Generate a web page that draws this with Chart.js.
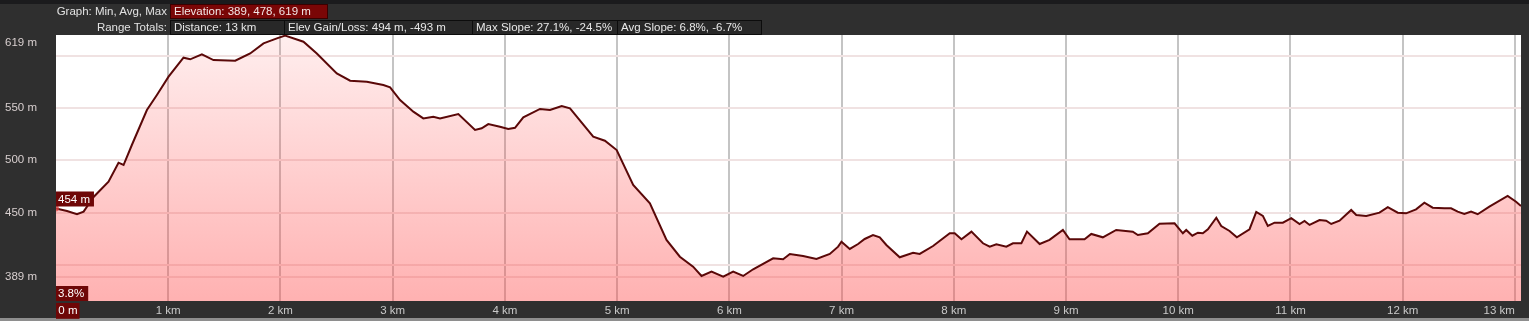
<!DOCTYPE html>
<html><head><meta charset="utf-8">
<script src="https://cdn.jsdelivr.net/npm/chart.js@4.4.0/dist/chart.umd.min.js"></script>
<style>
html,body{margin:0;padding:0;background:#2c2c2c;width:1529px;height:321px;overflow:hidden;font-family:"Liberation Sans",Arial,sans-serif;}
#wrap{position:relative;width:1529px;height:321px;}
#c{position:absolute;left:0;top:0;}
#topstrip{position:absolute;left:0;top:0;width:1529px;height:4px;background:#1b1b1d;}
.lbl{position:absolute;left:0;width:167px;text-align:right;font-size:11.5px;line-height:15px;color:#e2e2e2;white-space:nowrap;}
.box{position:absolute;height:15px;line-height:13px;font-size:11.5px;color:#e8e8e8;padding-left:3px;box-sizing:border-box;white-space:nowrap;border:1px solid #0c0c0c;background:#282828;}
.red{background:#7a0606;border-color:#3a0000;color:#f2e6e6;}
</style></head>
<body>
<div id="wrap">
<canvas id="c" width="1529" height="321"></canvas>
<div id="topstrip"></div>
<div class="lbl" style="top:4px">Graph: Min, Avg, Max</div>
<div class="box red" style="left:170px;top:4px;width:158px">Elevation: 389, 478, 619 m</div>
<div class="lbl" style="top:20px">Range Totals:</div>
<div class="box" style="left:170px;top:20px;width:115px">Distance: 13 km</div>
<div class="box" style="left:284px;top:20px;width:189px">Elev Gain/Loss: 494 m, -493 m</div>
<div class="box" style="left:472px;top:20px;width:146px">Max Slope: 27.1%, -24.5%</div>
<div class="box" style="left:617px;top:20px;width:145px">Avg Slope: 6.8%, -6.7%</div>
</div>
<script>
const distKm = [0,0.098,0.187,0.246,0.335,0.468,0.557,0.602,0.676,0.81,0.899,1.003,1.136,1.196,1.3,1.403,1.597,1.73,1.849,1.968,2.042,2.205,2.324,2.502,2.621,2.77,2.917,2.977,3.066,3.184,3.273,3.362,3.422,3.585,3.734,3.793,3.852,3.956,4.03,4.09,4.164,4.313,4.402,4.506,4.58,4.787,4.891,4.996,5.143,5.292,5.44,5.559,5.677,5.752,5.841,5.945,6.034,6.123,6.212,6.39,6.479,6.539,6.657,6.776,6.895,6.969,6.999,7.073,7.147,7.206,7.28,7.34,7.399,7.518,7.637,7.696,7.815,7.964,8.008,8.068,8.157,8.26,8.32,8.379,8.468,8.527,8.602,8.652,8.765,8.853,8.972,9.031,9.165,9.225,9.328,9.447,9.595,9.64,9.729,9.833,9.967,10.041,10.071,10.125,10.175,10.219,10.264,10.339,10.383,10.457,10.522,10.635,10.695,10.754,10.798,10.858,10.932,11.007,11.081,11.125,11.17,11.259,11.318,11.363,11.437,11.541,11.586,11.675,11.793,11.867,11.956,12.03,12.119,12.193,12.267,12.371,12.431,12.49,12.549,12.609,12.668,12.772,12.935,13.01,13.054];
const elevM = [454,451.6,448.5,451,465,479.6,497.7,495.5,514.6,548,562.3,579.8,597.9,596.4,601.1,595.7,595,602,611.6,616.4,619,613.2,602,583,576,575,571.8,569.7,557.5,546.4,540,541.6,540,544.2,529,530.5,534.6,532,529.9,531,541,549,548,551.8,549.6,522.5,518.7,509.8,476.4,459,424,408,398.5,389.6,393.7,389,393.7,389.6,396,406.5,405.5,410.6,408.7,405.8,410.6,417.6,422.3,415.4,420.1,424.9,428.7,426.5,419.2,407.4,411.8,410.6,418.2,430.3,430.3,424.6,431.9,420.8,417.6,419.8,417.6,420.8,420.8,431.9,420.1,424,433.5,424.6,424.6,429.7,426.5,433.5,431.9,428.7,430.3,439.5,439.9,430.3,433.5,428,430.9,430.3,434.2,445.2,437.3,432.5,426.5,434.2,450.7,446.9,437.3,440.5,440.5,444.7,439.2,442.1,438.3,443,442.4,439.2,442.4,452.6,447.8,446.9,450,455.2,450,449.4,453.2,459.5,454.8,454.2,454.2,451,448.8,451,448.5,455.7,466,460.5,456.4];
const kmTicks = [0,1,2,3,4,5,6,7,8,9,10,11,12,13];
const elevGridTicks = [389,400,450,500,550,600,619];
const elevLabelTicks = [389,450,500,550,619];
const startSlopeLabel = '3.8%';

const FONT = {family:'"Liberation Sans", Arial, sans-serif', size:11.5};

const bgPlugin = {
  id:'bg',
  beforeDraw(chart){
    const c = chart.ctx, a = chart.chartArea;
    c.save();
    c.fillStyle = '#2f2f2f';
    c.fillRect(0,0,chart.width,chart.height);
    c.fillStyle = '#8e8e8e';
    c.fillRect(0,chart.height-3,chart.width,3);
    c.fillStyle = '#ffffff';
    c.fillRect(a.left,a.top,a.right-a.left,a.bottom-a.top);
    c.restore();
  }
};

function tagBox(c, text, x, yTop){
  c.font = '11.5px "Liberation Sans", Arial, sans-serif';
  const w = c.measureText(text).width + 6;
  c.fillStyle = '#6e0707';
  c.fillRect(x, yTop, w, 15);
  c.fillStyle = '#ffffff';
  c.textBaseline = 'middle';
  c.textAlign = 'left';
  c.fillText(text, x + 2, yTop + 8);
}

const tagPlugin = {
  id:'tags',
  afterDatasetsDraw(chart){
    const c = chart.ctx, a = chart.chartArea;
    const py = chart.scales.y.getPixelForValue(elevM[0]);
    c.save();
    tagBox(c, Math.round(elevM[0]) + ' m', a.left, py - 17);
    tagBox(c, startSlopeLabel, a.left, a.bottom - 15);
    c.restore();
  }
};

new Chart(document.getElementById('c'), {
  type:'line',
  data:{datasets:[{
    data: distKm.map((d,i)=>({x:d,y:elevM[i]})),
    borderColor:'#5a0808',
    borderWidth:2,
    tension:0,
    fill:'start',
    pointRadius: ctx => ctx.dataIndex===0 ? 3 : 0,
    pointBorderWidth:0,
    pointBackgroundColor:'rgba(225,70,70,0.75)',
    backgroundColor: ctx => {
      const ch = ctx.chart, a = ch.chartArea;
      if(!a) return 'rgba(255,90,90,0.3)';
      const g = ch.ctx.createLinearGradient(0,a.top,0,a.bottom);
      g.addColorStop(0,'rgba(255,70,70,0.09)');
      g.addColorStop(1,'rgba(255,70,70,0.42)');
      return g;
    }
  }]},
  options:{
    responsive:false, animation:false, devicePixelRatio:1,
    layout:{padding:{top:35,left:5,right:8,bottom:0}},
    plugins:{legend:{display:false},tooltip:{enabled:false}},
    scales:{
      x:{
        type:'linear', min:0, max:13.054,
        afterBuildTicks: s => { s.ticks = kmTicks.map(v=>({value:v})); },
        afterFit: s => { s.height = 20; },
        border:{display:false},
        grid:{color: ctx => ctx.index===0 ? 'rgba(0,0,0,0)' : '#c4c4c4', lineWidth:2, drawTicks:false},
        ticks:{
          align:'inner', padding:3, autoSkip:false, maxRotation:0, font:FONT,
          color: ctx => ctx.index===0 ? '#ffffff' : '#c9c9c9',
          callback: v => v===0 ? '\u20090 m' : v + ' km',
          showLabelBackdrop: ctx => ctx.index===0,
          backdropColor:'#6e0707',
          backdropPadding:{left:0,right:2,top:1,bottom:1}
        }
      },
      y:{
        min:365.7, max:619.6,
        afterBuildTicks: s => { s.ticks = elevGridTicks.map(v=>({value:v})); },
        afterFit: s => { s.width = 51; },
        border:{display:false},
        grid:{color: ctx => ctx.tick && ctx.tick.value===619 ? 'rgba(0,0,0,0)' : '#f0e2e2', lineWidth:2, drawTicks:false},
        ticks:{
          crossAlign:'far', padding:0, font:FONT, color:'#d8cfcf',
          callback: v => v===619 ? ['', '619 m'] : (elevLabelTicks.includes(v) ? v + ' m' : '')
        }
      }
    }
  },
  plugins:[bgPlugin, tagPlugin]
});
</script>
</body></html>
